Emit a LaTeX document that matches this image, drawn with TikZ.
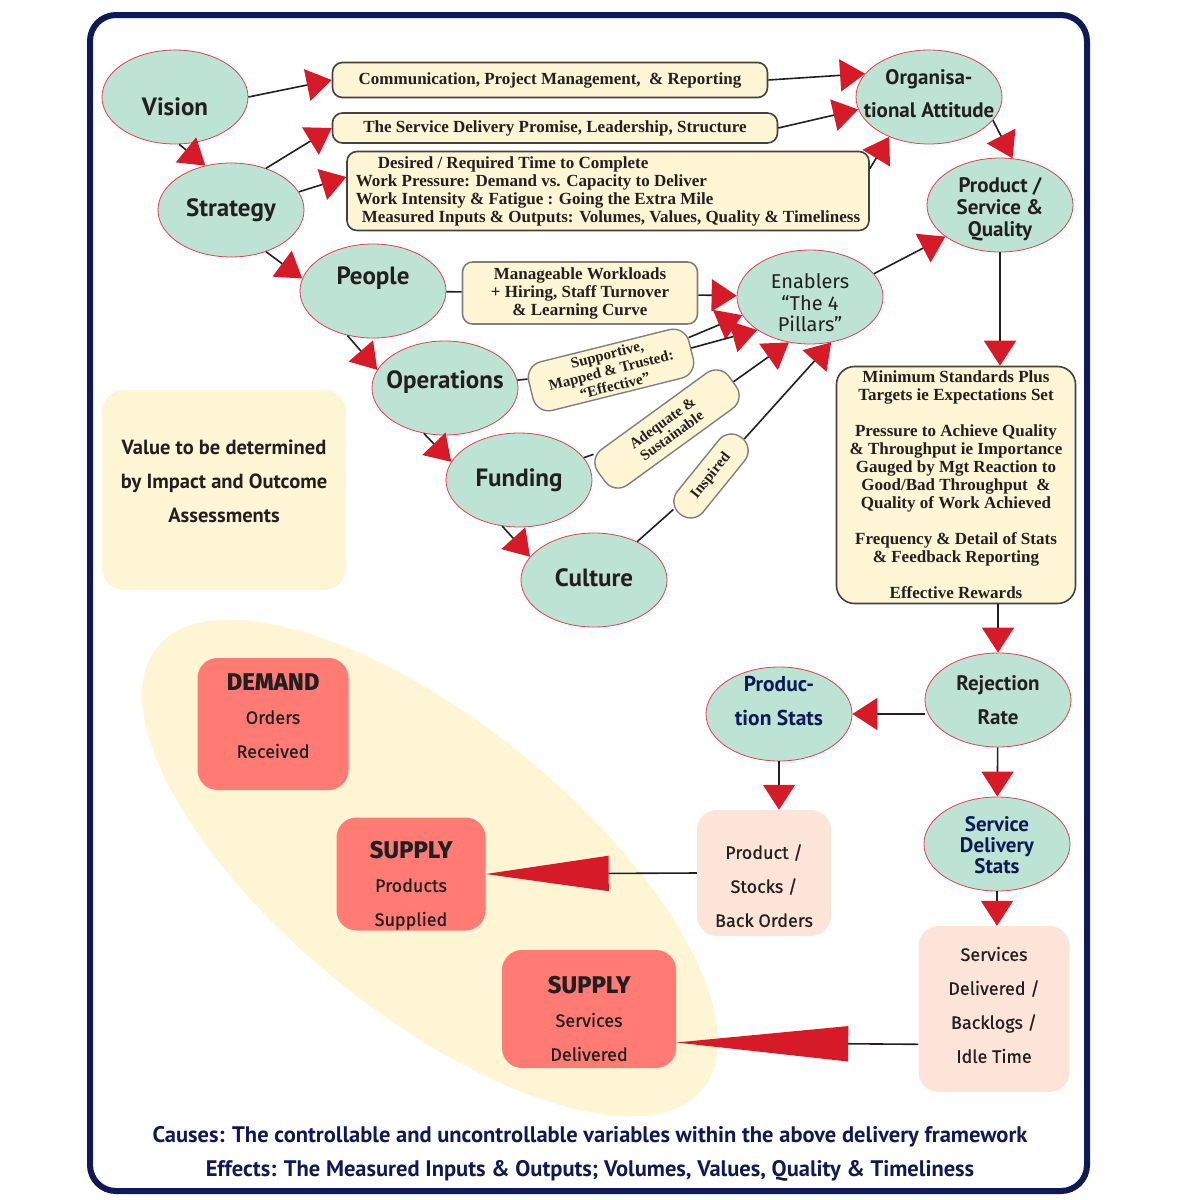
\documentclass[tikz,border=0pt]{standalone}
\usepackage{fontspec}
\setmainfont{Liberation Serif}
\newfontfamily\ovalfont{PT Sans}
\newfontfamily\pillarfont{Fira Sans}
\newfontfamily\statfont[FakeBold=0.6]{Fira Sans}
\usetikzlibrary{arrows.meta,shapes.geometric}
\definecolor{mint}{HTML}{BDE3D4}
\definecolor{cream}{HTML}{FDF5D4}
\definecolor{salmon}{HTML}{FF7B74}
\definecolor{peach}{HTML}{FDE4D9}
\definecolor{tipred}{HTML}{D71A28}
\definecolor{rim}{HTML}{E0404F}
\definecolor{navy}{HTML}{0E1A56}
\definecolor{ink}{HTML}{231F20}
\newcommand{\sz}[2]{\fontsize{#1}{#2}\selectfont}
\newcommand{\lbl}[2][0pt]{\makebox[0pt]{\raisebox{\dimexpr#1-.3em\relax}[0pt][0pt]{\begin{tabular}{@{}c@{}}#2\end{tabular}}}}
\tikzset{
  stage/.style={ellipse, draw=rim, line width=.8pt, fill=mint, minimum width=146pt, minimum height=94pt, inner sep=0pt, text=ink, font=\ovalfont\bfseries\sz{25}{28}},
  note/.style={rectangle, rounded corners=10pt, draw=ink!85, line width=1.6pt, fill=cream, inner sep=0pt, align=center, text=ink, font=\bfseries\sz{17}{18}},
  tag/.style={note, draw=gray, line width=1.4pt, rounded corners=16pt, font=\bfseries\sz{15}{16}},
  outcome/.style={rectangle, rounded corners=20pt, fill=salmon, inner sep=0pt, text=ink, font=\statfont\sz{18}{34}},
  stat/.style={outcome, fill=peach},
  link/.style={draw=ink, line width=1.6pt},
  flow/.style={link, -{Triangle[length=25pt,width=32pt,color=tipred]}},
  bigflow/.style={link, -{Triangle[length=#1,width=35pt,color=tipred]}},
}
\begin{document}
\begin{tikzpicture}[x=1pt,y=-1pt]
  \useasboundingbox (0,0) rectangle (1180,1200);
  % frame and backgrounds
  \draw[navy, line width=6pt, rounded corners=26pt] (90,15) rectangle (1087,1191);
  \fill[cream, rotate around={-39:(430,868)}] (430,868) ellipse [x radius=351, y radius=146];

  % causes
  \node[stage] (vision) at (175,97) {\lbl[-12pt]{Vision}};
  \node[stage] (strategy) at (231,210) {\lbl{Strategy}};
  \node[stage] (people) at (373,291) {\lbl[13pt]{People}};
  \node[stage] (ops) at (445,388) {\lbl[6pt]{Operations}};
  \node[stage] (funding) at (519,480) {\lbl{Funding}};
  \node[stage] (culture) at (594,580) {\lbl{Culture}};
  \node[stage, font=\ovalfont\bfseries\sz{21}{33}] (org) at (929,97) {\lbl[4pt]{Organisa-\\tional Attitude}};
  \node[stage, font=\ovalfont\bfseries\sz{21}{22}] (product) at (1000,205) {\lbl[-4pt]{Product /\\Service \&\\Quality}};
  \node[stage, font=\pillarfont\sz{20}{20}] (enablers) at (810,297) {\lbl[-8pt]{Enablers\\“The 4\\Pillars”}};

  \node[note, minimum width=435pt, minimum height=35pt] (comm) at (550,80) {Communication, Project Management, \ \& Reporting};
  \node[note, minimum width=445pt, minimum height=30pt] (service) at (555,128) {The Service Delivery Promise, Leadership, Structure};
  \node[note, minimum width=522pt, minimum height=79pt, align=left] (desired) at (608,191) {\hspace*{22pt}Desired / Required Time to Complete\\Work Pressure: Demand vs. Capacity to Deliver\\Work Intensity \& Fatigue : Going the Extra Mile\\\hspace*{6pt}Measured Inputs \& Outputs: Volumes, Values, Quality \& Timeliness};
  \node[note, draw=gray, minimum width=235pt, minimum height=62pt] (workload) at (580,293) {Manageable Workloads\\+ Hiring, Staff Turnover\\\& Learning Curve};
  \node[tag, rotate=14, minimum width=165pt, minimum height=50pt] (supp) at (611,370) {Supportive,\\Mapped \& Trusted:\\“Effective”};
  \node[tag, rotate=36, minimum width=162pt, minimum height=44pt] (adequate) at (667,429) {Adequate \&\\Sustainable};
  \node[tag, rotate=51, minimum width=98pt, minimum height=33pt] (inspired) at (711,476) {Inspired};

  \node[fill=cream, rounded corners=22pt, minimum width=244pt, minimum height=200pt, inner sep=0pt, text=ink, font=\ovalfont\bfseries\sz{20.5}{34}] (value) at (224,490) {\lbl[9pt]{Value to be determined\\by Impact and Outcome\\Assessments}};

  % effects
  \node[note, rounded corners=18pt, minimum width=239pt, minimum height=237pt] (standards) at (956,485) {Minimum Standards Plus\\Targets ie Expectations Set\\[18pt] Pressure to Achieve Quality\\\& Throughput ie Importance\\Gauged by Mgt Reaction to\\Good/Bad Throughput \ \&\\Quality of Work Achieved\\[18pt] Frequency \& Detail of Stats\\\& Feedback Reporting\\[18pt] Effective Rewards};
  \node[stage, font=\ovalfont\bfseries\sz{21}{34}] (rejection) at (998,700) {\lbl{Rejection\\Rate}};
  \node[stage, text=navy, font=\ovalfont\bfseries\sz{21.5}{34}] (prodstats) at (779,714) {\lbl[14pt]{Produc-\\tion Stats}};
  \node[stage, text=navy, font=\ovalfont\bfseries\sz{21}{20}] (sdstats) at (997,844) {\lbl[-3pt]{Service\\Delivery\\Stats}};
  \node[stat, minimum width=134pt, minimum height=126pt] (stock) at (764,873) {\lbl[-12pt]{Product /\\Stocks /\\Back Orders}};
  \node[stat, minimum width=151pt, minimum height=166pt] (svcbox) at (994,1009) {\lbl[5pt]{Services\\Delivered /\\Backlogs /\\Idle Time}};

  \node[outcome, minimum width=151pt, minimum height=132pt] (demand) at (273,724) {\lbl[8pt]{{\bfseries\sz{24}{34}DEMAND}\\Orders\\Received}};
  \node[outcome, minimum width=149pt, minimum height=113pt] (supprod) at (411,874) {\lbl[-10pt]{{\bfseries\sz{24}{34}SUPPLY}\\Products\\Supplied}};
  \node[outcome, minimum width=174pt, minimum height=118pt] (supsvc) at (589,1009) {\lbl[-10pt]{{\bfseries\sz{24}{34}SUPPLY}\\Services\\Delivered}};

  \node[text=navy, align=center, font=\ovalfont\bfseries\sz{22.5}{34}] (caption) at (590,1154) {Causes: The controllable and uncontrollable variables within the above delivery framework\\Effects: The Measured Inputs \& Outputs; Volumes, Values, Quality \& Timeliness};

  % connectors
  \draw[flow] (vision.east) -- (comm.west);
  \draw[flow] (comm.east) -- (org.160);
  \draw[flow] (service.east) -- (org.190);
  \draw[flow] ([yshift=-18pt]desired.north east) -- (org.225);
  \draw[flow] (org.-20) -- (product.75);
  \draw[flow] (vision.-85) -- (strategy.120);
  \draw[flow] (strategy.50) -- (service.west);
  \draw[flow] (strategy.15) -- ([yshift=14pt]desired.west);
  \draw[flow] (strategy.-50) -- (people.170);
  \draw[link] (people) -- (workload);
  \draw[flow] (workload) -- (enablers);
  \draw[flow] (people.-120) -- (ops.165);
  \draw[link] (ops) -- (supp);
  \draw[flow] (supp) -- (enablers.195);
  \draw[flow] (supp) -- (enablers.212);
  \draw[flow] (ops.-115) -- (funding.165);
  \draw[link] (funding) -- (adequate);
  \draw[flow] (adequate) -- (enablers.-115);
  \draw[flow] (funding.-110) -- (culture.160);
  \draw[link] (culture) -- (inspired);
  \draw[flow] (inspired) -- (enablers.-65);
  \draw[flow] (enablers.20) -- (product.210);
  \draw[flow] (product.south) -- (product.south |- standards.north);
  \draw[flow] (rejection.north |- standards.south) -- (rejection.north);
  \draw[flow] (prodstats -| rejection.west) -- (prodstats.east);
  \draw[flow] (rejection) -- (sdstats);
  \draw[flow] (prodstats.south) -- (prodstats.south |- stock.north);
  \draw[flow] (sdstats) -- (sdstats |- svcbox.north);
  \draw[bigflow=123pt] (stock.west) -- (supprod.east);
  \draw[bigflow=172pt] (svcbox.205) -- (supsvc.-21);
\end{tikzpicture}
\end{document}
